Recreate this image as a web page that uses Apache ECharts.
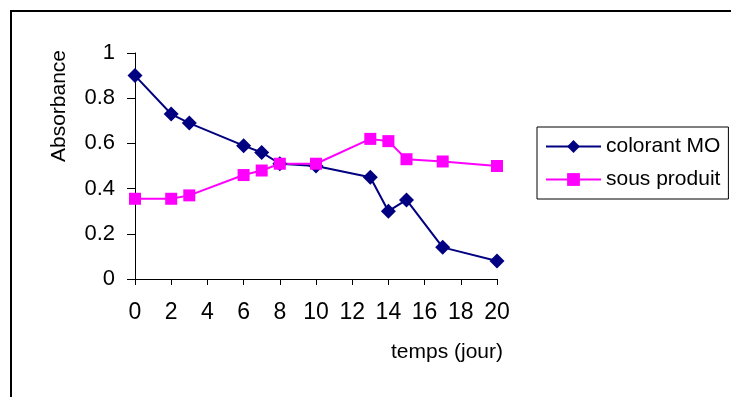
<!DOCTYPE html>
<html>
<head>
<meta charset="utf-8">
<script src="https://cdn.jsdelivr.net/npm/echarts@6/dist/echarts.min.js"></script>
<style>
  html, body { margin: 0; padding: 0; background: #fff; }
  #chart { width: 731px; height: 397px; }
</style>
</head>
<body>
<div id="chart"></div>
<script>
// Time in days and absorbance readings for the dye and its by-product
const days = [0, 2, 3, 6, 7, 8, 10, 13, 14, 15, 17, 20];
const colorantMO = [0.90, 0.73, 0.69, 0.59, 0.56, 0.51, 0.50, 0.45, 0.30, 0.35, 0.14, 0.08];
const sousProduit = [0.355, 0.355, 0.37, 0.46, 0.48, 0.51, 0.51, 0.62, 0.61, 0.53, 0.52, 0.50];
const seriesNames = ['colorant MO', 'sous produit'];

const FONT = 'Liberation Sans, Arial, sans-serif';

const chart = echarts.init(document.getElementById('chart'));
chart.setOption({
  animation: false,
  backgroundColor: '#fff',
  grid: { left: 135, right: 234, top: 53, bottom: 118 },
  xAxis: {
    type: 'value', min: 0, max: 20, interval: 2,
    axisLine: { lineStyle: { color: '#000', width: 1 } },
    axisTick: { length: 6, lineStyle: { color: '#000' } },
    axisLabel: { color: '#000', fontFamily: FONT, fontSize: 23, margin: 22 },
    splitLine: { show: false }
  },
  yAxis: {
    type: 'value', min: 0, max: 1, interval: 0.2,
    axisLine: { show: true, lineStyle: { color: '#000', width: 1 } },
    axisTick: { show: true, length: 8, lineStyle: { color: '#000' } },
    axisLabel: { color: '#000', fontFamily: FONT, fontSize: 22, margin: 20 },
    splitLine: { show: false }
  },
  legend: {
    orient: 'vertical', left: 537, top: 127,
    data: [
      { name: seriesNames[0], itemStyle: { color: '#000080' } },
      { name: seriesNames[1], itemStyle: { color: '#ff00ff' } }
    ],
    padding: [9, 8, 9, 8],
    itemGap: 12, itemWidth: 55, itemHeight: 16,
    borderColor: '#000', borderWidth: 1,
    textStyle: { color: '#000', fontFamily: FONT, fontSize: 21 }
  },
  graphic: [
    { type: 'rect', shape: { x: 11, y: 11, width: 800, height: 500 },
      style: { fill: 'none', stroke: '#000', lineWidth: 2 }, silent: true },
    { type: 'text', x: 59, y: 106, rotation: Math.PI / 2,
      style: { text: 'Absorbance', font: '21px ' + FONT, fill: '#000',
               textAlign: 'center', textVerticalAlign: 'middle' } },
    { type: 'text', x: 447, y: 352,
      style: { text: 'temps (jour)', font: '21px ' + FONT, fill: '#000',
               textAlign: 'center', textVerticalAlign: 'middle' } }
  ],
  series: [
    {
      name: seriesNames[0], type: 'line',
      data: days.map((d, i) => [d, colorantMO[i]]),
      symbol: 'diamond', symbolSize: 15,
      itemStyle: { color: '#000080' },
      lineStyle: { color: '#000080', width: 2 }
    },
    {
      name: seriesNames[1], type: 'line',
      data: days.map((d, i) => [d, sousProduit[i]]),
      symbol: 'rect', symbolSize: 12,
      itemStyle: { color: '#ff00ff' },
      lineStyle: { color: '#ff00ff', width: 2 }
    }
  ]
});
</script>
</body>
</html>
